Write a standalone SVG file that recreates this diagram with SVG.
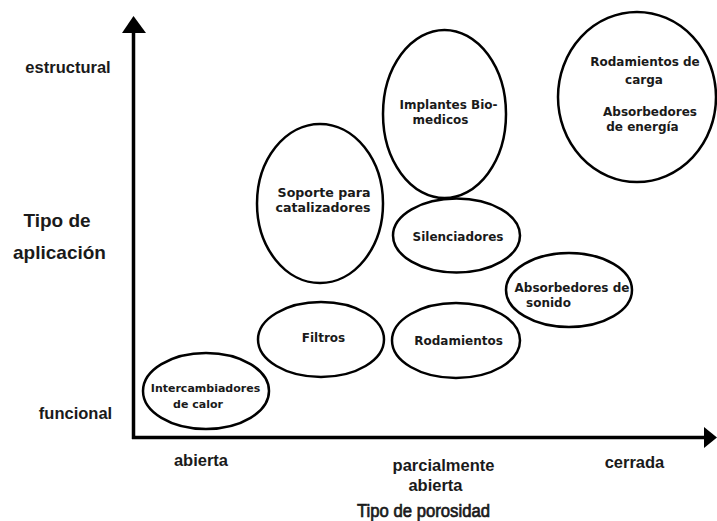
<svg xmlns="http://www.w3.org/2000/svg" width="717" height="521" viewBox="0 0 717 521">
<style>
.bg{fill:#ffffff}
.node{fill:none;stroke:#000;stroke-width:2.5}
.lbl{font-family:"DejaVu Sans","Liberation Sans",sans-serif;font-weight:bold;font-size:12px;fill:#1a1a1a;text-anchor:middle}
.ax{font-family:"Liberation Sans",Arial,sans-serif;font-weight:bold;font-size:16.5px;fill:#1a1a1a;text-anchor:middle}
.title{font-family:"Liberation Sans",Arial,sans-serif;font-weight:normal;font-size:18px;fill:#1a1a1a;stroke:#1a1a1a;stroke-width:0.7}
.axis{stroke:#000;stroke-width:3.5;fill:none}
.head{fill:#000}
</style>
<rect class="bg" x="0" y="0" width="717" height="521"/>
<g id="connectors">
  <line class="axis" x1="133.5" y1="439" x2="133.5" y2="30"/>
  <polygon class="head" points="122,33 133.5,16 146,33"/>
  <line class="axis" x1="132" y1="437.5" x2="706" y2="437.5"/>
  <polygon class="head" points="704,427 717,437.5 704,448"/>
</g>
<g id="axis-labels">
  <text class="ax" x="68" y="73">estructural</text>
  <text class="ax" x="57" y="226.5" style="font-size:19px">Tipo de</text>
  <text class="ax" x="59.5" y="259" style="font-size:19px">aplicación</text>
  <text class="ax" x="75.5" y="419">funcional</text>
  <text class="ax" x="201" y="466">abierta</text>
  <text class="ax" x="443.5" y="471">parcialmente</text>
  <text class="ax" x="435.5" y="491">abierta</text>
  <text class="ax" x="634.5" y="468">cerrada</text>
  <text class="title" x="357" y="516.5" textLength="133" lengthAdjust="spacingAndGlyphs">Tipo de porosidad</text>
</g>
<g id="intercambiadores">
  <ellipse class="node" cx="206" cy="391" rx="63" ry="38"/>
  <text class="lbl" x="205.5" y="392" style="font-size:11px">Intercambiadores</text>
  <text class="lbl" x="198" y="408" style="font-size:11px">de calor</text>
</g>
<g id="filtros">
  <ellipse class="node" cx="321" cy="339.5" rx="63" ry="37.5"/>
  <text class="lbl" x="323.5" y="342">Filtros</text>
</g>
<g id="soporte">
  <ellipse class="node" cx="320" cy="203.5" rx="63" ry="79.5"/>
  <text class="lbl" x="324" y="196.5" style="font-size:12.6px">Soporte para</text>
  <text class="lbl" x="323" y="211.5" style="font-size:12.6px">catalizadores</text>
</g>
<g id="implantes">
  <ellipse class="node" cx="444.5" cy="114" rx="61.5" ry="84"/>
  <text class="lbl" x="448.5" y="109">Implantes Bio-</text>
  <text class="lbl" x="440.5" y="124">medicos</text>
</g>
<g id="silenciadores">
  <ellipse class="node" cx="456.5" cy="235.5" rx="63.5" ry="37"/>
  <text class="lbl" x="458" y="241">Silenciadores</text>
</g>
<g id="rodamientos-carga">
  <ellipse class="node" cx="637" cy="97" rx="79" ry="85"/>
  <text class="lbl" x="645" y="66">Rodamientos de</text>
  <text class="lbl" x="644" y="84">carga</text>
  <text class="lbl" x="650" y="116">Absorbedores</text>
  <text class="lbl" x="642.5" y="131">de energía</text>
</g>
<g id="absorbedores-sonido">
  <ellipse class="node" cx="569" cy="290" rx="63" ry="37"/>
  <text class="lbl" x="572" y="292">Absorbedores de</text>
  <text class="lbl" x="548.5" y="307">sonido</text>
</g>
<g id="rodamientos">
  <ellipse class="node" cx="456" cy="340.5" rx="64" ry="37.5"/>
  <text class="lbl" x="458.5" y="345">Rodamientos</text>
</g>
</svg>
